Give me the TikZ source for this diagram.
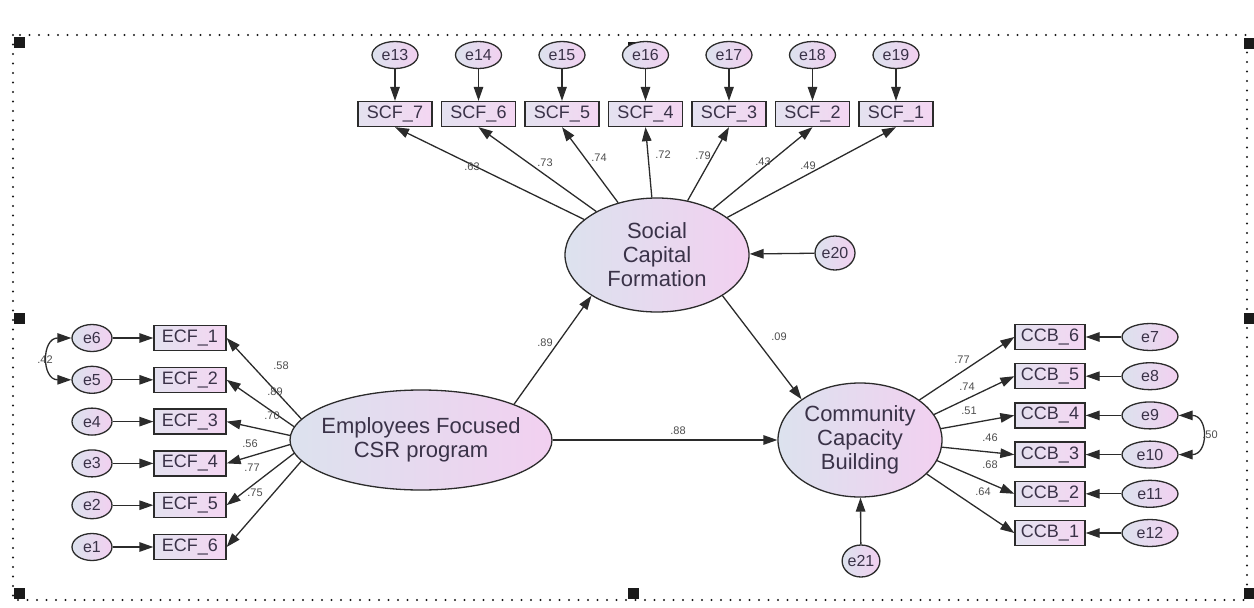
\documentclass[tikz,border=0pt]{standalone}
\usepackage{fontspec}
\setmainfont{Liberation Sans}
\usetikzlibrary{arrows.meta,shapes.geometric}
\definecolor{framegray}{HTML}{1A1A1A}
\definecolor{linedark}{HTML}{2B2B2B}
\definecolor{boxleft}{HTML}{E4E2F0}
\definecolor{boxright}{HTML}{F4D6F2}
\definecolor{ovalleft}{HTML}{DCE2EE}
\definecolor{ovalright}{HTML}{F2D0F0}
\definecolor{textdark}{HTML}{3A3248}
\definecolor{coefgray}{HTML}{4D4D4D}

\begin{document}
\begin{tikzpicture}[
    x=1pt, y=-1pt,
    >={Triangle[length=14pt,width=9.5pt]},
    every node/.style={text=textdark},
    observed/.style={draw=linedark, line width=1.3pt, rectangle, left color=boxleft, right color=boxright,
        minimum width=72pt, minimum height=25pt, inner sep=0pt, font=\fontsize{18}{18}\selectfont},
    latent/.style={draw=linedark, line width=1.3pt, ellipse, left color=ovalleft, right color=ovalright,
        inner sep=0pt, align=center, font=\fontsize{22}{24}\selectfont},
    errterm/.style={draw=linedark, line width=1.3pt, ellipse, left color=ovalleft, right color=ovalright,
        minimum height=27pt, inner sep=0pt, font=\fontsize{16}{16}\selectfont},
    regpath/.style={->, draw=linedark, line width=1.3pt},
    cov/.style={<->, draw=linedark, line width=1.3pt},
    coef/.style={text=coefgray, font=\fontsize{11}{11}\selectfont, inner sep=0pt},
    handle/.style={fill=framegray, minimum size=11pt, inner sep=0pt}
]
    \useasboundingbox (0,0) rectangle (1254,608);

    % Selection frame
    \draw[framegray, line width=2.4pt, line cap=round, dash pattern=on 0pt off 9.5pt] (13,35) rectangle (1247,600);
    \foreach \hx/\hy [count=\h] in {19/42, 633/47, 1249/43, 19/318, 1249/318, 19/593, 633/593, 1249/593} {
        \node[handle] (h\h) at (\hx,\hy) {};
    }

    % Latent variables
    \node[latent, minimum width=184pt, minimum height=114pt] (SCF) at (657,255) {Social\\Capital\\Formation};
    \node[latent, inner xsep=-20pt, minimum width=262pt, minimum height=100pt] (ECF) at (421,440) {Employees Focused\\CSR program};
    \node[latent, minimum width=164pt, minimum height=114pt] (CCB) at (860,440) {Community\\Capacity\\Building};

    % Social capital indicators
    \foreach \s/\e [count=\k from 0] in {7/13, 6/14, 5/15, 4/16, 3/17, 2/18, 1/19} {
        \node[observed, minimum width=74pt] (scf\s) at ({395+83.5*\k},114) {SCF\_\s};
        \node[errterm, minimum width=46pt] (e\e) at ({395+83.5*\k},55) {e\e};
        \draw[regpath] (e\e) -- (scf\s);
        \draw[regpath] (SCF) -- (scf\s.south);
    }

    % Employees focused indicators
    \foreach \i/\e/\a [count=\k from 0] in {1/6/170, 2/5/174, 3/4/178, 4/3/182, 5/2/186, 6/1/190} {
        \node[observed] (ecf\i) at (190,{338+41.8*\k}) {ECF\_\i};
        \node[errterm, minimum width=40pt] (e\e) at (92,{338+41.8*\k}) {e\e};
        \draw[regpath] (e\e) -- (ecf\i);
        \draw[regpath] (ECF.\a) -- (ecf\i.east);
    }

    % Community capacity indicators
    \foreach \i/\e/\a [count=\k from 0] in {6/7/34, 5/8/19, 4/9/8, 3/10/355, 2/11/345, 1/12/333} {
        \node[observed, minimum width=70pt] (ccb\i) at (1050,{337+39.2*\k}) {CCB\_\i};
        \node[errterm, minimum width=56pt] (e\e) at (1150,{337+39.2*\k}) {e\e};
        \draw[regpath] (e\e) -- (ccb\i);
        \draw[regpath] (CCB.\a) -- (ccb\i.west);
    }

    % Disturbances
    \node[errterm, minimum width=40pt, minimum height=34pt] (e20) at (835,253) {e20};
    \node[errterm, minimum width=36pt, minimum height=32pt] (e21) at (861,561) {e21};
    \draw[regpath] (e20) -- (SCF);
    \draw[regpath] (e21) -- (CCB);

    % Structural paths
    \draw[regpath] (ECF.north east) -- (SCF.south west);
    \draw[regpath] (SCF.south east) -- (CCB.north west);
    \draw[regpath] (ECF) -- (CCB);

    % Covariances
    \draw[cov] (e6.west) .. controls +(-30,0) and +(-30,0) .. (e5.west);
    \draw[cov] (e9.east) .. controls +(30,0) and +(30,0) .. (e10.east);

    % Estimates
    \foreach \n/\x/\y/\v in {s7/472/167/.63, s6/545/163/.73, s5/599/158/.74, s4/663/155/.72,
        s3/703/156/.79, s2/763/162/.43, s1/808/166/.49,
        l1/281/366/.58, l2/275/392/.89, l3/272/416/.70, l4/250/444/.56, l5/252/468/.77, l6/255/493/.75,
        r6/962/360/.77, r5/967/387/.74, r4/969/411/.51, r3/990/438/.46, r2/990/465/.68, r1/983/492/.64,
        es/545/343/.89, sc/779/337/.09, ec/678/431/.88, ca/45/360/.42, cb/1210/435/.50} {
        \node[coef] (c\n) at (\x,\y) {\v};
    }
\end{tikzpicture}
\end{document}
